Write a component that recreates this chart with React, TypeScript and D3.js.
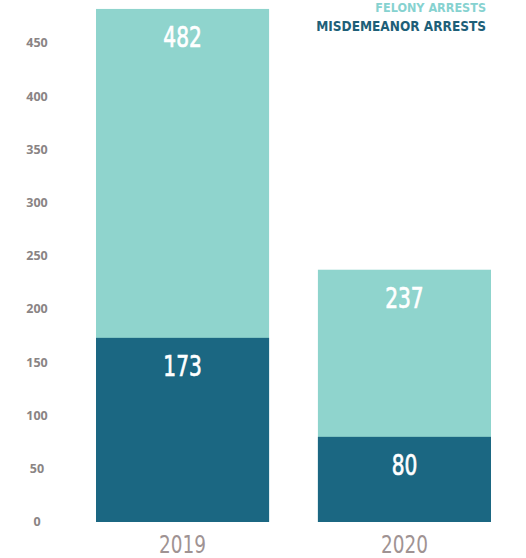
import React from "react";
import * as d3 from "d3";

const years = ["2019", "2020"];
const felonyTotals = [482, 237];
const misdemeanors = [173, 80];
const yTicks = [0, 50, 100, 150, 200, 250, 300, 350, 400, 450];
const legendLabels = ["FELONY ARRESTS", "MISDEMEANOR ARRESTS"];

const LIGHT = "#8fd4cd";
const DARK = "#1b6782";
const COND = "'DejaVu Sans Condensed', 'Liberation Sans Narrow', Roboto, sans-serif";

export default function App() {
  const W = 526, H = 558;
  const y = d3.scaleLinear().domain([0, 450]).range([522, 43]);
  const x = d3.scaleBand().domain(years).range([96, 491]).paddingInner(0.22).paddingOuter(0);
  const bw = x.bandwidth();
  const labelOffset = 38;

  const valueLabel = (v: number, yy: number, cx: number) => (
    <text x={cx} y={yy + labelOffset} textAnchor="middle" fontFamily={COND}
      fontSize={28} fill="#fff" stroke="#fff" strokeWidth={0.7}
      textLength={String(v).length * 12.8} lengthAdjust="spacingAndGlyphs">
      {v}
    </text>
  );

  return (
    <svg width={W} height={H} style={{ position: "absolute", left: 0, top: 0, background: "#fff" }}>
      {yTicks.map((t) => (
        <text key={t} x={37} y={y(t)} dy="0.35em" textAnchor="middle"
          fontFamily="'Open Sans', 'Noto Sans', sans-serif" fontWeight={700} fontSize={12.5} fill="#8a8484">
          {t}
        </text>
      ))}
      {years.map((yr, i) => {
        const x0 = x(yr)!;
        const cx = x0 + bw / 2;
        return (
          <g key={yr}>
            <rect x={x0} y={y(felonyTotals[i])} width={bw} height={y(0) - y(felonyTotals[i])} fill={LIGHT} />
            <rect x={x0} y={y(misdemeanors[i])} width={bw} height={y(0) - y(misdemeanors[i])} fill={DARK} />
            {valueLabel(felonyTotals[i], y(felonyTotals[i]), cx)}
            {valueLabel(misdemeanors[i], y(misdemeanors[i]), cx)}
            <text x={cx} y={553} textAnchor="middle" fontFamily={COND} fontSize={25} fill="#9f9393"
              textLength={47} lengthAdjust="spacingAndGlyphs">
              {yr}
            </text>
          </g>
        );
      })}
      <text x={486} y={12} textAnchor="end" fontFamily={COND} fontWeight={700} fontSize={12.5} fill="#86d2d0">
        {legendLabels[0]}
      </text>
      <text x={486} y={31} textAnchor="end" fontFamily={COND} fontWeight={700} fontSize={13.5} fill="#1e5f78">
        {legendLabels[1]}
      </text>
    </svg>
  );
}
